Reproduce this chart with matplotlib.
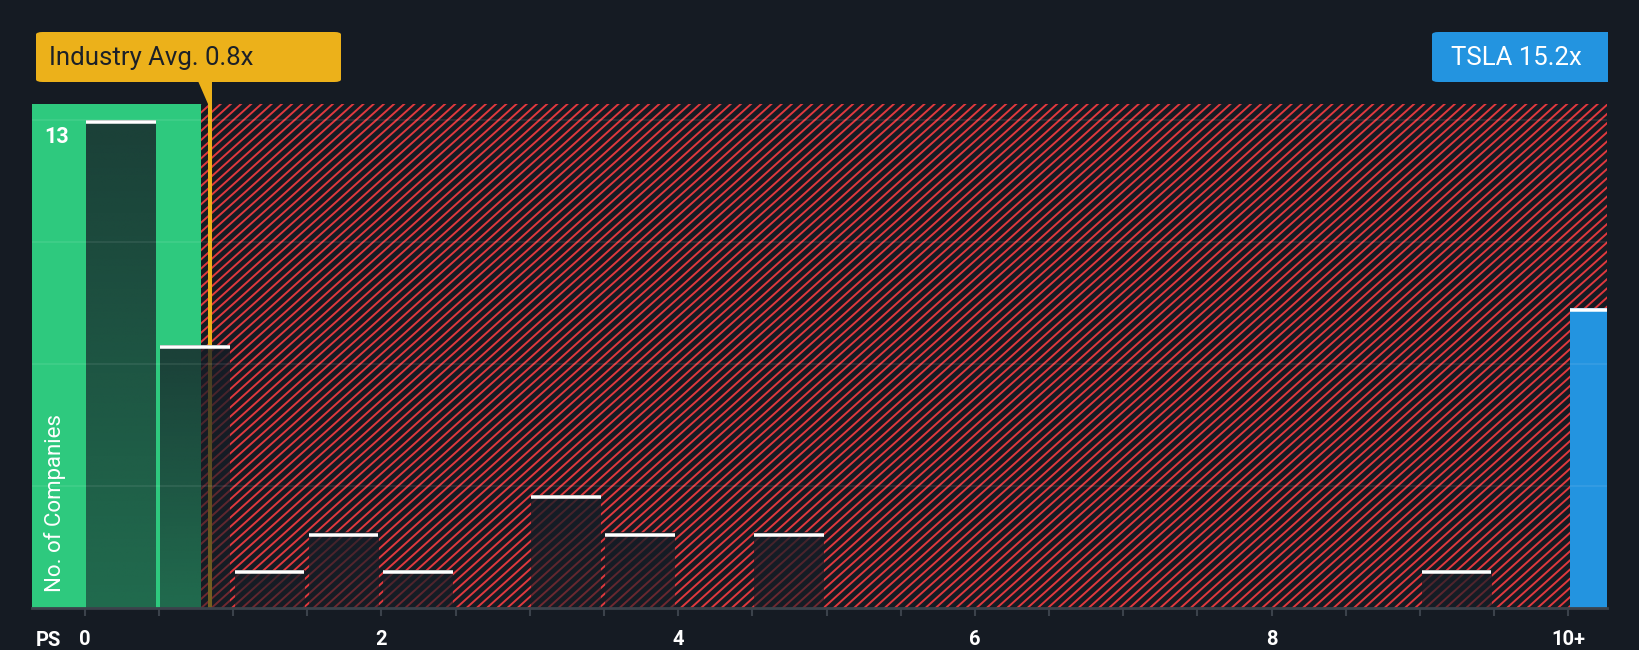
import matplotlib
matplotlib.use('Agg')
import matplotlib.pyplot as plt
import numpy as np
from matplotlib.patches import Rectangle, FancyBboxPatch, Polygon
from matplotlib.collections import LineCollection
from matplotlib.transforms import IdentityTransform

# ---- data ----
bin_starts = [0.0, 0.5, 1.0, 1.5, 2.0, 2.5, 3.0, 3.5, 4.0, 4.5,
              5.0, 5.5, 6.0, 6.5, 7.0, 7.5, 8.0, 8.5, 9.0, 9.5]
counts = [13, 7, 1, 2, 1, 0, 3, 2, 0, 2,
          0, 0, 0, 0, 0, 0, 0, 0, 1, 0]
company_label = "TSLA"
company_ps_text = "15.2x"
company_bin_start = 10.0
company_bin_count = 8
industry_avg_text = "0.8x"
industry_avg_pos = 0.845
fair_region_end = 0.785
tick_values = [0, 2, 4, 6, 8, 10]
tick_labels = ["0", "2", "4", "6", "8", "10+"]
max_count_label = "13"

# ---- style ----
BG = "#151b23"
GREEN = "#2ec97e"
RED = "#e0393e"
BLUE = "#2394e0"
YELLOW = "#ecb11a"
AXIS = "#3b424b"
W, H = 1640, 650

plt.rcParams['font.family'] = ['Roboto', 'DejaVu Sans']

fig = plt.figure(figsize=(W / 100, H / 100), dpi=100, facecolor=BG)

def fx(px):
    return px / W

def fy(py):
    return (H - py) / H

ax_left, ax_right, ax_top, ax_bottom = 32, 1607, 104, 608
ax = fig.add_axes([fx(ax_left), fy(ax_bottom), fx(ax_right - ax_left), (ax_bottom - ax_top) / H])
ax.set_facecolor(BG)

XMIN, XMAX = -0.355, 10.26
YMAX = 13.43
BW = 0.47
OFF = 0.01
ax.set_xlim(XMIN, XMAX)
ax.set_ylim(0, YMAX)

# background regions
ax.add_patch(Rectangle((XMIN, 0), fair_region_end - XMIN, YMAX, facecolor=GREEN,
                       edgecolor='none', lw=0, zorder=0.1))
hatch_rect = Rectangle((fair_region_end, 0), XMAX - fair_region_end, YMAX, facecolor=BG,
                       edgecolor='none', lw=0, zorder=0.2)
ax.add_patch(hatch_rect)

# diagonal stripes (display pixels, origin bottom-left)
spacing = 10.2
slope = 0.9
pb, pt = H - ax_bottom, H - ax_top
hgt = pt - pb + 10
run = hgt / slope
starts = np.arange(ax_left - run - 20, ax_right + 20, spacing)
segs = [[(s, pb - 5), (s + run, pb - 5 + hgt)] for s in starts]
lc = LineCollection(segs, colors=RED, linewidths=1.4, transform=IdentityTransform(),
                    zorder=0.3)
ax.add_collection(lc)
lc.set_clip_path(hatch_rect)

# industry average line
ax.axvline(industry_avg_pos, color=YELLOW, lw=2.9, zorder=0.5)

# bars with gradient overlay
ov = np.array([22, 29, 38]) / 255.0
grad = np.zeros((100, 1, 4))
grad[..., :3] = ov
grad[:, 0, 3] = np.linspace(0.8, 0.55, 100)
lefts = [b + OFF for b in bin_starts]
bars = ax.bar(lefts, counts, width=BW, align='edge', color='none', lw=0, zorder=1)
for rect, c in zip(bars, counts):
    if c <= 0:
        continue
    x0 = rect.get_x()
    ax.imshow(grad, extent=(x0, x0 + rect.get_width(), 0, c), aspect='auto',
              interpolation='bilinear', zorder=1)

# company bar
ax.bar([company_bin_start + OFF], [company_bin_count], width=BW, align='edge',
       color=BLUE, lw=0, zorder=1.2)

# white tops
top_lw = 3.5 * 72 / 100
dy = 1.75 / ((ax_bottom - ax_top) / YMAX)
for l, c in zip(lefts, counts):
    if c > 0:
        ax.hlines(c - dy, l, l + BW, color='white', lw=top_lw, zorder=2)
ax.hlines(company_bin_count - dy, company_bin_start + OFF, company_bin_start + OFF + BW,
          color='white', lw=top_lw, zorder=2)

ax.set_xlim(XMIN, XMAX)
ax.set_ylim(0, YMAX)

# grid
ax.set_yticks([13 * k / 4 for k in range(1, 5)])
ax.yaxis.grid(True, color='white', alpha=0.09, lw=1.2, zorder=2.5)
ax.tick_params(axis='y', length=0, labelleft=False)
ax.set_axisbelow(False)

# x axis
ax.set_xticks(np.arange(0, 10.01, 0.5))
ax.set_xticklabels([tick_labels[tick_values.index(int(v))] if (v in tick_values) else ''
                    for v in np.arange(0, 10.01, 0.5)])
ax.tick_params(axis='x', length=6, width=1.5, color=AXIS, labelcolor='white',
               labelsize=14.5, pad=10)
for lab in ax.get_xticklabels():
    lab.set_fontweight('bold')
for s in ['top', 'left', 'right']:
    ax.spines[s].set_visible(False)
ax.spines['bottom'].set_color(AXIS)
ax.spines['bottom'].set_linewidth(2)

fig.text(fx(36), fy(640), "PS", color='white', fontsize=14.5, fontweight='bold',
         ha='left', va='center')

# labels inside the plot
fig.text(fx(44), fy(137), max_count_label, color='white', fontsize=15.5, fontweight='bold',
         ha='left', va='center')
fig.text(fx(55), fy(503), "No. of Companies", color='white', fontsize=16,
         rotation=90, ha='center', va='center')

# industry avg callout
box = FancyBboxPatch((fx(36), fy(82)), fx(341 - 36), (82 - 32) / H,
                     boxstyle="round,pad=0,rounding_size=0.004",
                     transform=fig.transFigure, facecolor=YELLOW, edgecolor='none')
fig.patches.append(box)
xline = ax.transData.transform((industry_avg_pos, 0))[0]
ptr = Polygon([(fx(xline - 12), fy(81)), (fx(xline + 2), fy(81)),
               (fx(xline + 2), fy(ax_top)), (fx(xline - 2), fy(ax_top))],
              closed=True, transform=fig.transFigure, facecolor=YELLOW, edgecolor='none')
fig.patches.append(ptr)
fig.text(fx(49), fy(58), "Industry Avg. " + industry_avg_text, color='#1b2028',
         fontsize=18.5, ha='left', va='center')

# company callout
cbox = FancyBboxPatch((fx(1432), fy(82)), fx(1600 - 1432), (82 - 32) / H,
                      boxstyle="round,pad=0,rounding_size=0.004",
                      transform=fig.transFigure, facecolor=BLUE, edgecolor='none')
fig.patches.append(cbox)
fig.patches.append(Rectangle((fx(1590), fy(82)), fx(1608 - 1590), (82 - 32) / H,
                             transform=fig.transFigure, facecolor=BLUE, edgecolor='none'))
fig.text(fx(1451), fy(58), company_label + " " + company_ps_text, color='white',
         fontsize=18.5, ha='left', va='center')

fig.savefig("out.png", dpi=100, facecolor=BG)
